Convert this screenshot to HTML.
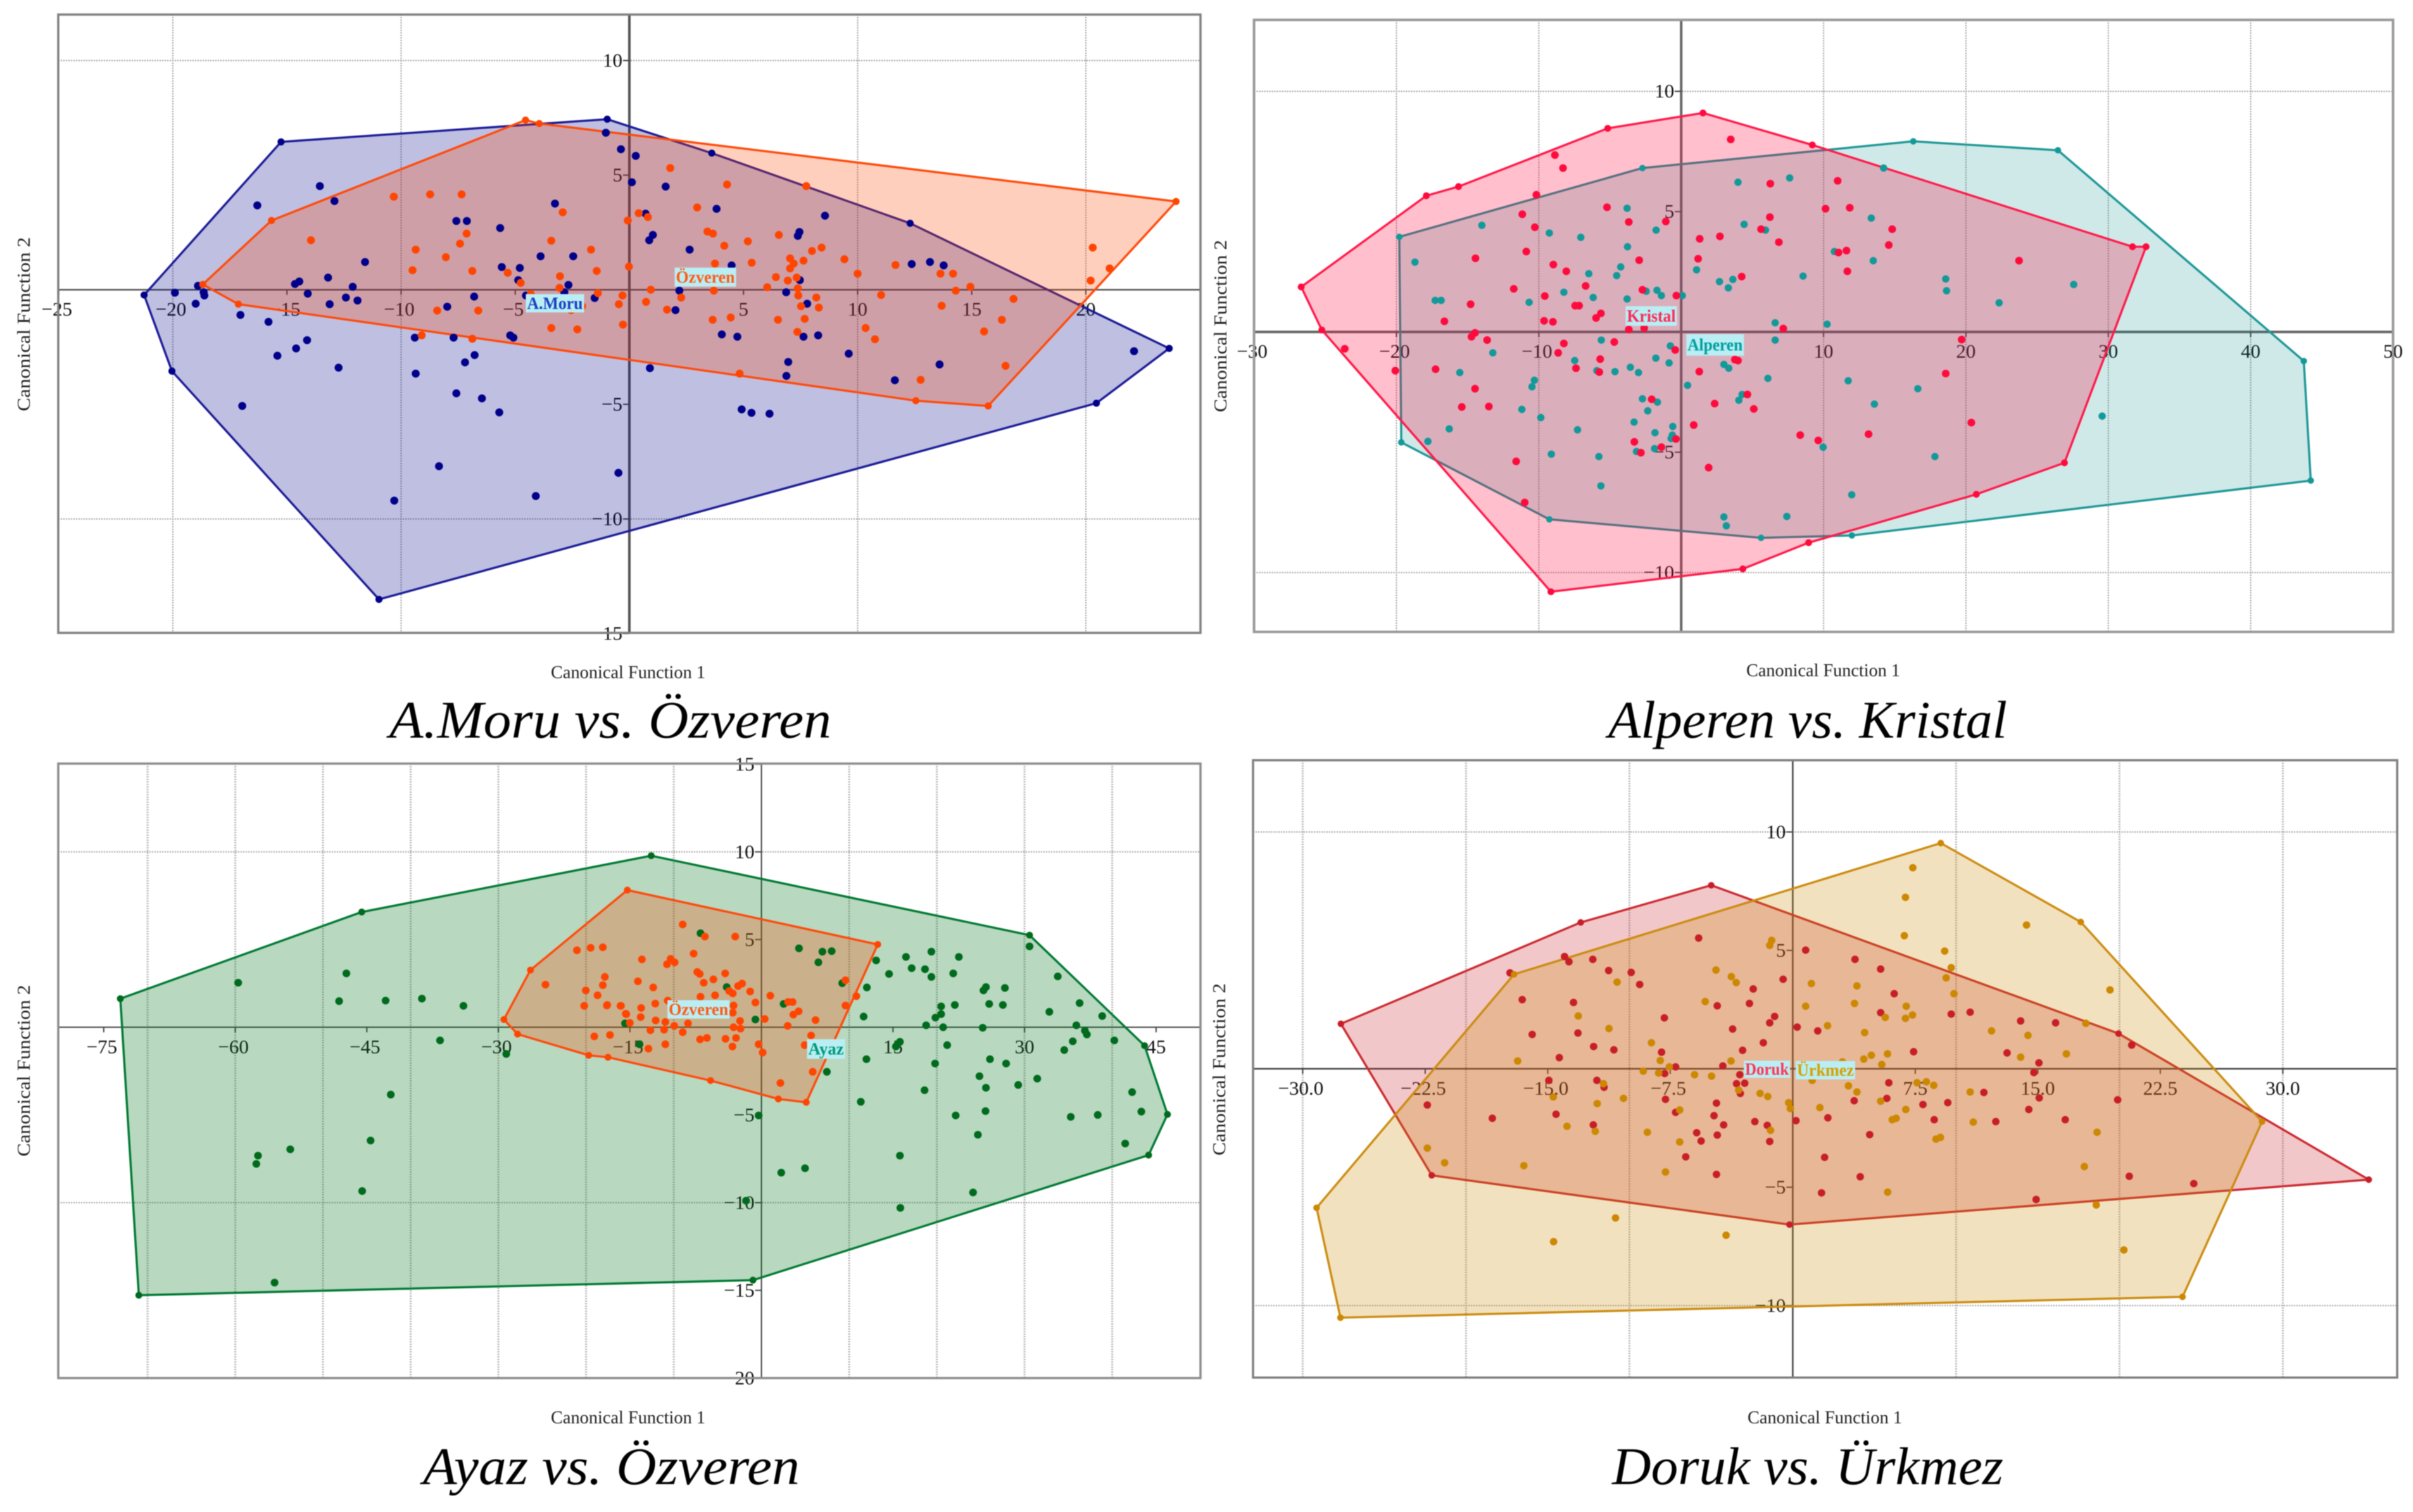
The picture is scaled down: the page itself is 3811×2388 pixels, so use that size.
<!DOCTYPE html>
<html lang="en">
<head>
<meta charset="utf-8">
<title>Canonical discriminant plots</title>
<style>
html,body{margin:0;padding:0;background:#fff;width:3811px;height:2388px;overflow:hidden}
svg{display:block;position:absolute;left:0;top:0;filter:blur(0.9px)}
text{font-family:"Liberation Serif","DejaVu Serif",serif;fill:#111}
.title{font-style:italic;font-size:84px;fill:#000}
.axt{font-size:28px;fill:#222}
</style>
</head>
<body>
<svg id="chart" xmlns="http://www.w3.org/2000/svg" width="3811" height="2388" viewBox="0 0 3811 2388">
  <rect x="0" y="0" width="3811" height="2388" fill="#fff"/>
  <g id="p1"></g>
  <g id="p2"></g>
  <g id="p3"></g>
  <g id="p4"></g>

  <text class="axt" x="870" y="1071" textLength="244" lengthAdjust="spacingAndGlyphs">Canonical Function 1</text>
  <text class="axt" x="2758" y="1068" textLength="243" lengthAdjust="spacingAndGlyphs">Canonical Function 1</text>
  <text class="axt" x="870" y="2248" textLength="244" lengthAdjust="spacingAndGlyphs">Canonical Function 1</text>
  <text class="axt" x="2760" y="2248" textLength="244" lengthAdjust="spacingAndGlyphs">Canonical Function 1</text>

  <text class="axt" text-anchor="middle" transform="translate(47 512) rotate(-90)" textLength="275" lengthAdjust="spacingAndGlyphs">Canonical Function 2</text>
  <text class="axt" text-anchor="middle" transform="translate(1937 515) rotate(-90)" textLength="272" lengthAdjust="spacingAndGlyphs">Canonical Function 2</text>
  <text class="axt" text-anchor="middle" transform="translate(47 1691) rotate(-90)" textLength="271" lengthAdjust="spacingAndGlyphs">Canonical Function 2</text>
  <text class="axt" text-anchor="middle" transform="translate(1935 1689) rotate(-90)" textLength="272" lengthAdjust="spacingAndGlyphs">Canonical Function 2</text>

  <text class="title" x="615" y="1165" textLength="698" lengthAdjust="spacingAndGlyphs">A.Moru vs. Özveren</text>
  <text class="title" x="2540" y="1165" textLength="630" lengthAdjust="spacingAndGlyphs">Alperen vs. Kristal</text>
  <text class="title" x="668" y="2344" textLength="595" lengthAdjust="spacingAndGlyphs">Ayaz vs. Özveren</text>
  <text class="title" x="2546" y="2344" textLength="618" lengthAdjust="spacingAndGlyphs">Doruk vs. Ürkmez</text>
</svg>
<script>
// ---- Panel 1: A.Moru vs. Ozveren ----
const p1XTicks = [-25,-20,-15,-10,-5,5,10,15,20];
const p1YTicks = [10,5,-5,-10,-15];
const p1XGrid = [-20,-10,10,20];
const p1YGrid = [10,-10];
const amoruHull = [[-21.26,-0.23],[-20.04,-3.55],[-10.97,-13.51],[20.46,-4.95],[23.65,-2.56],[12.3,2.9],[3.61,5.96],[-0.97,7.44],[-15.26,6.45]];
const amoruPoints = [[-13.56,4.52],[-16.3,3.68],[-12.92,3.87],[-7.58,3],[-7.12,3],[-5.66,2.69],[-3.26,3.76],[-11.58,1.21],[-3.89,1.46],[-2.46,1.46],[-5.59,0.99],[-4.8,0.95],[-4.87,0.42],[-2.67,0.21],[-13.2,0.53],[-14.65,0.25],[-14.46,0.36],[-12.12,0.13],[-18.9,0.17],[-19.91,-0.13],[-18.65,-0.11],[-18.62,-0.25],[-19,-0.61],[-14.09,-0.17],[-13.13,-0.63],[-12.42,-0.34],[-11.91,-0.47],[-7.98,-0.74],[-6.8,-0.3],[-4.53,-0.25],[-2.85,-0.11],[-1.52,-0.36],[-17.04,-1.1],[-15.81,-1.4],[-14.12,-2.2],[-14.6,-2.56],[-15.42,-2.88],[-12.74,-3.4],[-16.96,-5.07],[-9.4,-2.09],[-7.7,-2.09],[-5.22,-1.99],[-5.08,-2.09],[-6.78,-2.85],[-7.2,-3.17],[-9.36,-3.66],[-7.58,-4.52],[-6.46,-4.74],[-5.7,-5.35],[-8.34,-7.7],[-10.3,-9.2],[-4.1,-9],[-0.48,-7.99],[-1.03,6.85],[-0.37,6.13],[0.28,5.84],[0.11,4.69],[1.59,4.5],[0.71,3.32],[3.82,3.53],[1.03,2.39],[0.87,2.16],[2.64,1.75],[4.48,1.06],[8.57,3.23],[7.45,2.52],[7.38,2.35],[12.37,1.12],[13.17,1.21],[13.77,1.06],[7.47,0.42],[2.19,-0.04],[6.87,-0.11],[7.79,-0.61],[2.02,-0.89],[4.05,-1.95],[4.73,-2.05],[7.63,-2.05],[8.27,-1.99],[9.61,-2.79],[0.9,-3.42],[6.96,-3.15],[6.88,-3.76],[11.63,-3.95],[13.59,-3.26],[4.92,-5.22],[5.35,-5.37],[6.14,-5.41],[22.11,-2.68]];
const ozverenAHull = [[-18.69,0.23],[-17.13,-0.63],[12.55,-4.84],[15.72,-5.07],[23.95,3.85],[-3.95,7.25],[-4.55,7.4],[-15.68,3.02]];
const ozverenAPoints = [[-10.32,4.06],[-8.73,4.16],[-7.35,4.16],[-2.92,3.38],[-13.95,2.16],[-7.13,2.45],[-7.42,2.01],[-3.42,2.14],[-9.36,1.75],[-8.04,1.42],[-1.68,1.75],[-9.5,0.85],[-6.88,0.82],[-5.33,0.74],[-3.04,0.59],[-1.43,0.82],[-4.76,0.3],[-3.06,0.08],[-1.38,-0.15],[-4.32,-0.19],[-8.42,-0.91],[-6.62,-0.91],[-2.07,-0.72],[-2.55,-0.89],[-3.42,-1.67],[-2.28,-1.73],[-9.1,-1.99],[-6.88,-2.14],[1.79,5.31],[4.28,4.59],[7.75,4.52],[0.41,3.34],[-0.07,3.02],[0.81,3.17],[2.97,3.59],[3.42,2.54],[3.66,2.45],[4.16,1.92],[5.19,2.11],[6.55,2.39],[5.36,1.18],[3.75,1.14],[-0.02,1.01],[8.42,1.84],[8,1.69],[7.04,1.37],[7.2,1.14],[7.04,0.93],[7.63,1.27],[9.42,1.33],[11.66,1.08],[10,0.7],[13.63,0.7],[14.18,0.7],[6.42,0.55],[6.94,0.4],[7.33,0.53],[6.04,0.11],[7.38,0.06],[14.94,0.13],[3.7,-0.04],[0.94,0],[14.3,-0.04],[2.27,-0.34],[7.4,-0.25],[8.19,-0.34],[11.03,-0.23],[16.83,-0.4],[-0.3,-0.25],[-0.46,-0.63],[0.73,-0.53],[1.65,-0.87],[7.52,-0.72],[8.3,-0.78],[13.68,-0.7],[3.65,-1.31],[4.44,-1.21],[6.51,-1.31],[7.68,-1.27],[16.32,-1.31],[-0.28,-1.52],[10.35,-1.67],[10.76,-2.16],[7.36,-1.84],[15.54,-1.82],[4.83,-3.66],[12.76,-3.93],[16.48,-3.32],[20.3,1.84],[21.04,0.93],[20.21,0.4]];

// ---- Panel 2: Alperen vs. Kristal ----
const p2XTicks = [-30,-20,-10,10,20,30,40,50];
const p2YTicks = [10,5,-5,-10];
const p2XGrid = [-20,-10,10,20,30,40];
const p2YGrid = [10,-10];
const alperenHull = [[-19.8,3.95],[-19.66,-4.59],[-9.26,-7.79],[5.61,-8.56],[11.99,-8.46],[44.22,-6.18],[43.73,-1.21],[26.46,7.55],[16.3,7.92],[-2.72,6.81]];
const alperenPoints = [[-18.7,2.9],[-14,4.43],[-17.28,1.31],[-16.86,1.31],[-10.68,1.23],[-9.26,4.11],[-7.05,3.93],[-3.8,5.14],[-3.77,3.54],[-4.25,2.7],[-4.53,2.34],[-6.49,2.42],[-8.24,1.65],[-6.18,1.43],[-3.8,1.37],[-2.46,1.69],[-1.7,1.73],[-1.39,1.51],[-1.76,4.23],[0.08,1.51],[1.08,2.58],[2.69,2.09],[3.31,1.83],[3.63,2.18],[3.99,6.22],[4.42,4.47],[5.92,4.23],[7.62,6.4],[8.56,2.32],[6.6,0.38],[6.6,-0.34],[10.25,0.32],[10.76,3.34],[-13.23,-0.87],[-15.55,-1.69],[-7.48,-1.19],[-5.61,-0.34],[-5.92,-1.61],[-4.65,-1.65],[-3.57,-1.47],[-3,-1.69],[-1.78,-1.09],[-0.85,-1.29],[-0.76,-0.58],[-10.31,-2.01],[-10.48,-2.28],[-11.19,-3.22],[-9.86,-3.56],[-16.29,-4.03],[-17.79,-4.55],[-7.28,-4.07],[-9.12,-5.08],[-5.78,-5.18],[-5.64,-6.4],[-2.72,-2.78],[-1.67,-2.92],[-2.35,-3.28],[-3.31,-3.75],[-1.84,-4.19],[-0.59,-3.93],[-0.62,-4.29],[-0.71,-4.43],[-1.87,-4.85],[-3.14,-4.97],[0.45,-2.22],[3,-1.35],[3.34,-1.51],[6.09,-1.93],[4.28,-2.6],[4.05,-2.84],[3,-7.69],[3.17,-8.06],[7.42,-7.67],[9.97,-4.79],[11.73,-2.03],[11.98,-6.77],[14.22,6.81],[13.35,4.73],[13.49,2.96],[18.58,2.2],[18.64,1.71],[22.33,1.21],[27.57,1.97],[16.62,-2.36],[13.57,-3],[29.57,-3.5],[17.82,-5.18]];
const kristalHull = [[-26.69,1.87],[-25.24,0.08],[-9.15,-10.8],[4.33,-9.85],[8.95,-8.76],[20.73,-6.75],[26.92,-5.44],[32.65,3.54],[31.7,3.54],[9.21,7.77],[1.53,9.1],[-5.16,8.46],[-15.64,6.04],[-17.9,5.66]];
const kristalPoints = [[-8.87,7.35],[-8.3,6.81],[-10.17,5.7],[-5.21,5.18],[-11.16,4.89],[-10.28,4.35],[-3.68,4.57],[-1.08,4.59],[-10.88,3.34],[-14.45,3.06],[-8.98,2.8],[-8.07,2.52],[-2.95,2.98],[-6.71,1.91],[-11.76,1.79],[-9.58,1.49],[-2.72,1.75],[-0.34,1.51],[-14.79,1.15],[-7.45,1.09],[-7.17,1.09],[-5.64,0.77],[-5.98,0.58],[-16.63,0.44],[-9.63,0.46],[-9.01,0.42],[-3.68,0.1],[-2.6,0.16],[-14.48,-0.04],[-14.73,-0.2],[-13.63,-0.34],[-23.63,-0.7],[-8.24,-0.48],[-8.64,-0.87],[-4.7,-0.42],[-0.42,-0.75],[-5.69,-1.13],[-20.08,-1.61],[-17.25,-1.55],[-7.39,-1.51],[-5.75,-1.67],[-14.48,-2.36],[-15.41,-3.12],[-13.51,-3.1],[-2.07,-2.8],[1.27,-1.65],[2.35,-2.98],[3.77,-1.15],[3.99,-1.19],[4.65,-2.6],[5.1,-3.2],[0.88,-3.87],[-0.37,-4.45],[-3.29,-4.57],[-2.83,-5.02],[-1.39,-4.79],[1.93,-5.64],[-11.59,-5.38],[-10.99,-7.09],[8.36,-4.29],[9.63,-4.51],[1.3,3.87],[1.19,3.04],[2.72,3.97],[4.25,2.3],[5.61,4.27],[6.23,4.77],[6.86,3.73],[6.26,6.16],[3.48,8],[10.99,6.28],[10.14,5.12],[11.84,5.16],[11.05,3.3],[11.61,3.38],[11.67,2.52],[7.17,0.14],[14.82,4.27],[14.58,3.61],[23.73,2.96],[19.7,-0.32],[18.58,-1.73],[20.38,-3.77],[13.16,-4.25]];

// ---- Panel 3: Ayaz vs. Ozveren ----
const p3XTicks = [-75,-60,-45,-30,-15,15,30,45];
const p3YTicks = [15,10,5,-5,-10,-15,-20];
const p3XGrid = [-70,-60,-50,-40,-30,-20,-10,10,20,30,40];
const p3YGrid = [10,-10];
const ayazHull = [[-73.11,1.63],[-71,-15.28],[-0.97,-14.42],[44.15,-7.29],[46.3,-4.97],[43.69,-1.05],[30.57,5.25],[-12.57,9.78],[-45.58,6.57]];
const ayazPoints = [[-59.67,2.54],[-47.33,3.07],[-48.16,1.49],[-42.86,1.52],[-38.72,1.63],[-33.98,1.22],[-36.65,-0.75],[-29.1,-1.52],[-42.27,-3.84],[-53.73,-6.96],[-57.41,-7.32],[-57.6,-7.79],[-44.57,-6.46],[-45.53,-9.34],[-55.52,-14.56],[-15.56,0.22],[-6.95,5.36],[-3.96,2.29],[-13.9,-0.97],[2.53,1.33],[-0.69,0.44],[4.28,4.5],[6.95,4.31],[8.01,4.34],[6.49,3.7],[9.21,2.51],[13.08,3.81],[12.02,2.27],[11.65,0.61],[14.55,3.04],[16.48,4.01],[17.13,3.37],[19.38,4.31],[18.65,3.31],[19.38,2.87],[22.51,4.01],[21.87,3.07],[22.05,1.27],[20.49,1.19],[20.49,0.75],[19.84,0.55],[18.78,0.11],[20.72,0],[15.79,-0.83],[15.33,-1.1],[15.52,-0.97],[21.18,-1.02],[11.97,-1.82],[7.46,-2.54],[19.8,-2.07],[26.06,-1.82],[27.9,-2.07],[24.86,-2.79],[25.6,-3.45],[18.6,-3.59],[11.33,-4.25],[22.15,-5.03],[25.55,-4.78],[-0.32,-5.03],[29.28,-3.29],[31.45,-2.93],[24.68,-6.13],[15.79,-7.32],[4.97,-8.04],[2.26,-8.29],[24.13,-9.42],[15.84,-10.3],[-1.75,-9.89],[25.32,2.1],[25.6,2.29],[27.76,2.24],[25.97,1.33],[27.53,1.27],[25.23,-0.03],[30.57,4.61],[33.79,2.9],[32.83,0.88],[36.28,1.38],[38.86,0.64],[35.91,0.11],[36.88,-0.19],[37.11,-0.41],[35.5,-0.8],[34.53,-1.3],[40.24,-0.75],[42.27,-3.7],[43.32,-4.81],[35.27,-5.11],[38.35,-5],[41.48,-6.63]];
const ozverenBHull = [[-29.37,0.44],[-27.81,-0.39],[-19.7,-1.6],[-17.5,-1.71],[-5.8,-3.04],[1.93,-4.09],[5.11,-4.28],[13.26,4.72],[-15.29,7.82],[-26.34,3.26]];
const ozverenBPoints = [[-24.63,2.43],[-21.04,4.39],[-19.48,4.53],[-18.09,4.56],[-17.86,2.87],[-20.03,2.1],[-18.69,1.82],[-18.09,2.4],[-20.21,1.22],[-17.63,1.24],[-16.02,1.22],[-15.42,0.75],[-15.01,0.25],[-19.06,-0.52],[-17.27,-0.44],[-8.98,5.86],[-6.45,5.17],[-2.99,5.17],[-13.63,3.87],[-10.36,3.9],[-9.9,3.7],[-10.77,3.59],[-7.73,4.2],[-14.09,2.62],[-12.34,2.27],[-7.32,3.15],[-7.04,3.04],[-4.14,3.07],[-6.58,2.54],[-5.48,2.73],[-2.67,2.35],[-2.21,2.49],[-3.68,2.07],[-3.27,1.93],[-6.95,1.74],[-5.29,1.82],[-1.29,2.04],[1.01,1.8],[-0.69,1.41],[-17.59,1.27],[-16.07,1.22],[-13.72,1.1],[-12.11,1.35],[-10.68,1.52],[-15.47,0.77],[-13.77,0.58],[-12.06,0.39],[-10.96,0.3],[-8.38,0.22],[-9.94,0.08],[-11.1,-0.14],[-12.66,-0.17],[-8.98,-0.28],[-12.89,-1.22],[-10.96,-0.97],[-7,-0.69],[-6.22,-0.61],[-4.1,-0.66],[-2.9,-0.61],[-3.31,-1.1],[-3.18,0],[-2.44,0.36],[-2.39,-0.08],[-3.18,1.24],[-3.27,0.83],[0.37,0.47],[-0.32,-0.97],[0.14,-1.44],[2.99,0.08],[3.64,0.72],[4.24,0.91],[3.04,1.44],[3.55,1.44],[6.17,0.41],[5.66,-0.47],[4.93,-1.02],[5.85,-2.54],[2.16,-3.18],[9.58,2.68],[10.82,1.77],[9.58,1.24]];

// ---- Panel 4: Doruk vs. Urkmez ----
const p4XTicks = [-30,-22.5,-15,-7.5,7.5,15,22.5,30];
const p4YTicks = [10,5,-5,-10];
const p4XGrid = [-30,-20,-10,10,20,30];
const p4YGrid = [10,-10];
const dorukHull = [[-27.66,1.9],[-22.1,-4.5],[-0.2,-6.58],[35.26,-4.68],[19.94,1.49],[-4.99,7.75],[-12.98,6.18]];
const dorukPoints = [[-17.31,4.05],[-13.97,4.74],[-13.7,4.52],[-12.24,4.62],[-11.27,4.15],[-9.89,4.07],[-9.37,3.56],[-16.56,2.92],[-13.42,2.8],[-15.95,1.45],[-13.15,1.51],[-12.19,0.94],[-10.95,0.8],[-14.29,0.47],[-5.76,5.52],[-0.59,3.78],[0.79,5.01],[3.81,4.62],[-2.42,3.37],[-2.65,2.76],[-4.62,2.66],[-7.86,2.15],[-1.11,2.21],[-1.41,1.94],[0.27,1.76],[1.53,1.6],[-3.68,1.68],[-1.8,1.1],[-8.03,0.7],[-3.07,0.78],[-4.28,0.12],[-7.17,0.08],[-7.84,-0.2],[-3.24,-0.25],[-14.93,-0.49],[-11.99,-0.49],[-11.55,-0.78],[-3.44,-0.63],[-2.94,-0.61],[-3.21,-1.04],[-22.37,-1.53],[-18.39,-2.09],[-14.49,-1.92],[-12.21,-2.37],[-7.79,-1.29],[-7.17,-1.84],[-4.67,-1.45],[-4.82,-1.98],[-4.23,-2.37],[-2.32,-2.23],[-1.56,-2.39],[0.2,-2.19],[2.15,-2.07],[3.76,-1.35],[-5.88,-2.7],[-5.61,-3.05],[-4.62,-2.8],[-1.41,-3.07],[-6.55,-3.72],[-4.67,-4.46],[1.95,-3.74],[1.76,-5.24],[4.13,-4.56],[5.38,4.21],[6.21,3.17],[5.38,2.37],[9.7,2.31],[10.86,2.39],[13.95,2.02],[16.09,1.94],[20.75,1],[13.12,0.67],[15.07,0.25],[14.76,-0.16],[7.4,0.72],[5.88,-0.59],[5.76,-1.25],[7.97,-1.51],[9.49,-1.43],[11.7,-1],[15.09,-1.23],[19.89,-1.31],[8.66,-2.15],[12.43,-2.23],[14.45,-1.72],[16.68,-2.15],[4.71,-2.78],[14.9,-5.52],[20.6,-4.54],[24.55,-4.85]];
const urkmezHull = [[-29.15,-5.87],[-27.69,-10.51],[23.86,-9.63],[28.73,-2.23],[17.63,6.2],[9.06,9.53],[-17.06,3.99]];
const urkmezPoints = [[-16.84,0.33],[-13.13,2.23],[-11.25,1.7],[-10.75,3.66],[-4.7,4.17],[-3.76,3.89],[-3.46,3.64],[-5.36,2.84],[-1.41,5.21],[-1.29,5.42],[1.14,3.6],[3.93,3.5],[3.78,2.76],[0.79,2.64],[2.13,1.82],[4.4,1.53],[-8.65,1.1],[-8.11,0.35],[-9.15,-0.1],[-8.21,-0.18],[-7.56,0.08],[-6.01,-0.25],[-4.97,-0.31],[-3.78,0.33],[4.35,0.41],[3.04,0.29],[-11.59,-0.63],[-14.66,-1.19],[-10.36,-1.25],[-11.97,-1.47],[-6.92,-1.74],[-3.31,-0.9],[-2,-1.04],[-1.53,-1.17],[-0.25,-1.43],[-0.15,-1.68],[1.19,-0.49],[3.41,-0.72],[3.93,-0.98],[1.66,-1.64],[-13.82,-2.43],[-12.09,-2.64],[-8.9,-2.68],[-6.92,-3.09],[-1.36,-2.6],[-22.37,-3.35],[-21.31,-3.97],[-16.46,-4.09],[-7.79,-4.36],[-10.85,-6.3],[-14.64,-7.3],[-4.08,-7.03],[7.35,8.49],[6.9,7.24],[6.83,5.62],[14.31,6.07],[9.3,4.97],[9.7,4.27],[9.39,3.84],[9.87,3.17],[19.42,3.33],[6.95,2.64],[6.9,2.13],[7.33,2.27],[5.66,2.17],[12.17,1.6],[14.4,1.41],[17.94,1.92],[16.75,0.63],[13.95,0.49],[5.8,0.63],[4.81,0.57],[5.45,0.18],[5.38,-1.37],[7.61,-0.59],[8.18,-0.55],[8.63,-0.7],[10.86,-0.98],[6.92,-1.72],[6.33,-2.09],[6.09,-2.15],[11.05,-2.25],[9.04,-2.9],[8.77,-2.97],[18.63,-2.68],[17.85,-4.13],[5.81,-5.21],[18.58,-5.75],[20.27,-7.65]];

const NS = 'http://www.w3.org/2000/svg';
function make(parent, tag, attrs) {
  const node = document.createElementNS(NS, tag);
  for (const k in attrs) node.setAttribute(k, attrs[k]);
  parent.appendChild(node);
  return node;
}

function drawSeries(g, sx, sy, key, hull, color, fill, fillOpacity) {
  const poly = make(g, 'polygon', {
    points: hull.map(p => sx(p[0]) + ',' + sy(p[1])).join(' '),
    fill: fill, 'fill-opacity': fillOpacity, stroke: color, 'stroke-width': 3.4, 'stroke-linejoin': 'round'
  });
  
  
}

function drawDots(g, sx, sy, key, hull, points, color, r) {
  hull.concat(points).forEach(function (p, i) {
    const dot = make(g, 'circle', { cx: sx(p[0]), cy: sy(p[1]), r: i < hull.length ? r - 0.7 : r, fill: color });
    
    
  });
}

function drawLabel(g, sx, sy, key, text, lx, ly, w, h, color) {
  const cx = sx(lx), cy = sy(ly);
  const bg = make(g, 'rect', { x: cx - w / 2, y: cy - h / 2, width: w, height: h, fill: '#b9eef5' });
  
  
  const t = make(g, 'text', {
    x: cx - w / 2 + 2, y: cy + 9, 'font-size': 27, 'font-weight': 'bold',
    textLength: w - 4, lengthAdjust: 'spacingAndGlyphs'
  });
  t.style.fill = color;
  t.textContent = text;
  
  
}

function drawFrame(g, c) {
  const sx = v => c.x0 + c.kx * v;
  const sy = v => c.y0 - c.ky * v;
  c.xGrid.forEach(function (v) {
    const l = make(g, 'line', { x1: sx(v), x2: sx(v), y1: c.top, y2: c.bottom, stroke: c.gridColor, 'stroke-width': c.gridWidth, 'stroke-dasharray': '2 2' });
    
    
  });
  c.yGrid.forEach(function (v) {
    const l = make(g, 'line', { x1: c.left, x2: c.right, y1: sy(v), y2: sy(v), stroke: '#9a9a9a', 'stroke-width': 2, 'stroke-dasharray': '2 2' });
    
    
  });
  const xAxis = make(g, 'line', { x1: c.left, x2: c.right, y1: c.y0, y2: c.y0, stroke: c.axisColor, 'stroke-width': c.hAxisWidth });
  
  
  const yAxis = make(g, 'line', { x1: c.x0, x2: c.x0, y1: c.top, y2: c.bottom, stroke: c.axisColor, 'stroke-width': c.vAxisWidth });
  
  
  c.xTicks.forEach(function (v) {
    const tick = make(g, 'line', { x1: sx(v), x2: sx(v), y1: c.y0, y2: c.y0 + 8, stroke: '#444', 'stroke-width': 2 });
    
    
    const t = make(g, 'text', { x: sx(v) - (v < 0 ? 3 : 0), y: c.y0 + 41, 'text-anchor': 'middle', 'font-size': 31 });
    t.textContent = v.toFixed(c.digits).replace('-', '\u2212');
    
    
  });
  c.yTicks.forEach(function (v) {
    const tick = make(g, 'line', { x1: c.x0 - 10, x2: c.x0, y1: sy(v), y2: sy(v), stroke: '#444', 'stroke-width': 2 });
    
    
    const t = make(g, 'text', { x: c.x0 - 11, y: sy(v) + 10, 'text-anchor': 'end', 'font-size': 31 });
    t.textContent = String(v).replace('-', '\u2212');
    
    
  });
  const box = make(g, 'rect', { x: c.left, y: c.top, width: c.right - c.left, height: c.bottom - c.top, fill: 'none', stroke: c.frameColor, 'stroke-width': c.frameWidth });
  
  
  return { sx: sx, sy: sy };
}

// Panel 1
(function () {
  const g = document.getElementById('p1');
  const s = drawFrame(g, { left: 92, right: 1896, top: 23, bottom: 999.5, x0: 994, y0: 457.6, kx: 36.05, ky: 36.2,
    xTicks: p1XTicks, yTicks: p1YTicks, xGrid: p1XGrid, yGrid: p1YGrid, digits: 0,
    gridColor: '#9a9a9a', gridWidth: 2, axisColor: '#555', hAxisWidth: 2.5, vAxisWidth: 4, frameColor: '#808080', frameWidth: 3.5 });
  drawSeries(g, s.sx, s.sy, 'amoru', amoruHull, '#1c1c98', '#00008b', 0.25);
  drawSeries(g, s.sx, s.sy, 'ozveren', ozverenAHull, '#ff4a0a', '#ff4500', 0.26);
  drawDots(g, s.sx, s.sy, 'amoru', amoruHull, amoruPoints, '#00008b', 6.3);
  drawDots(g, s.sx, s.sy, 'ozveren', ozverenAHull, ozverenAPoints, '#ff4500', 6.3);
  drawLabel(g, s.sx, s.sy, 'amoru', 'A.Moru', -3.26, -0.59, 92, 29, '#1a3fc0');
  drawLabel(g, s.sx, s.sy, 'ozveren', 'Özveren', 3.33, 0.55, 97, 30, '#ff5a14');
})();

// Panel 2
(function () {
  const g = document.getElementById('p2');
  const s = drawFrame(g, { left: 1980.6, right: 3779.5, top: 31.4, bottom: 998, x0: 2655.2, y0: 524.2, kx: 22.486, ky: 38,
    xTicks: p2XTicks, yTicks: p2YTicks, xGrid: p2XGrid, yGrid: p2YGrid, digits: 0,
    gridColor: '#9a9a9a', gridWidth: 2, axisColor: '#666', hAxisWidth: 4, vAxisWidth: 4, frameColor: '#9a9a9a', frameWidth: 4 });
  drawSeries(g, s.sx, s.sy, 'alperen', alperenHull, '#1f9797', '#008b8b', 0.19);
  drawSeries(g, s.sx, s.sy, 'kristal', kristalHull, '#ff1a4a', '#ff0037', 0.25);
  drawDots(g, s.sx, s.sy, 'alperen', alperenHull, alperenPoints, '#139999', 5.8);
  drawDots(g, s.sx, s.sy, 'kristal', kristalHull, kristalPoints, '#ff0a3c', 6.1);
  drawLabel(g, s.sx, s.sy, 'kristal', 'Kristal', -2.1, 0.66, 81, 31, '#ff2a55');
  drawLabel(g, s.sx, s.sy, 'alperen', 'Alperen', 2.38, -0.54, 91, 34, '#009e9e');
})();

// Panel 3
(function () {
  const g = document.getElementById('p3');
  const s = drawFrame(g, { left: 92, right: 1896, top: 1206, bottom: 2176.5, x0: 1202.6, y0: 1622.4, kx: 13.85, ky: 27.7,
    xTicks: p3XTicks, yTicks: p3YTicks, xGrid: p3XGrid, yGrid: p3YGrid, digits: 0,
    gridColor: '#b4b4b4', gridWidth: 3, axisColor: '#444', hAxisWidth: 2, vAxisWidth: 2, frameColor: '#8c8c8c', frameWidth: 3.5 });
  drawSeries(g, s.sx, s.sy, 'ayaz', ayazHull, '#007a33', '#00741e', 0.28);
  drawSeries(g, s.sx, s.sy, 'ozveren', ozverenBHull, '#ff4a0a', '#ff4500', 0.27);
  drawDots(g, s.sx, s.sy, 'ayaz', ayazHull, ayazPoints, '#006b1c', 6.1);
  drawDots(g, s.sx, s.sy, 'ozveren', ozverenBHull, ozverenBPoints, '#ff4500', 6.1);
  drawLabel(g, s.sx, s.sy, 'ozveren', 'Özveren', -7.18, 1.02, 98, 29, '#ff5a14');
  drawLabel(g, s.sx, s.sy, 'ayaz', 'Ayaz', 7.37, -1.24, 60, 31, '#009a7a');
})();

// Panel 4
(function () {
  const g = document.getElementById('p4');
  const s = drawFrame(g, { left: 1979, right: 3786, top: 1200.7, bottom: 2175.7, x0: 2831.4, y0: 1688, kx: 25.8, ky: 37.4,
    xTicks: p4XTicks, yTicks: p4YTicks, xGrid: p4XGrid, yGrid: p4YGrid, digits: 1,
    gridColor: '#b4b4b4', gridWidth: 3, axisColor: '#444', hAxisWidth: 2.5, vAxisWidth: 2.5, frameColor: '#808080', frameWidth: 3.5 });
  drawSeries(g, s.sx, s.sy, 'doruk', dorukHull, '#cc2a30', '#c81e28', 0.25);
  drawSeries(g, s.sx, s.sy, 'urkmez', urkmezHull, '#cc8c10', '#cc8800', 0.25);
  drawDots(g, s.sx, s.sy, 'doruk', dorukHull, dorukPoints, '#c81e28', 5.9);
  drawDots(g, s.sx, s.sy, 'urkmez', urkmezHull, urkmezPoints, '#cc8800', 5.9);
  drawLabel(g, s.sx, s.sy, 'doruk', 'Doruk', -1.58, -0.02, 73, 27, '#ff3355');
  drawLabel(g, s.sx, s.sy, 'urkmez', 'Ürkmez', 2.0, -0.06, 94, 29, '#d6a000');
})();
</script>
</body>
</html>
